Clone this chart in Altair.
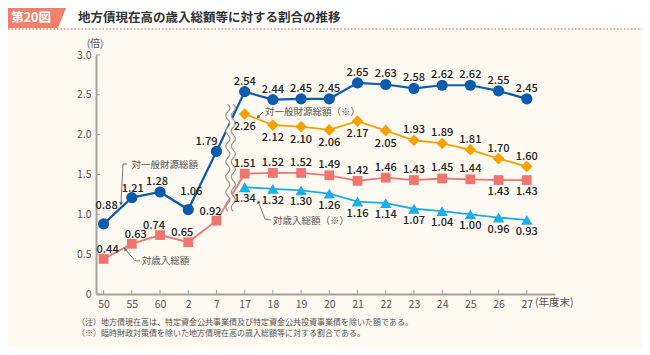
import json
import altair as alt
import pandas as pd

# ---------------- data ----------------
years = ["50", "55", "60", "2", "7", "17", "18", "19", "20", "21", "22", "23", "24", "25", "26", "27"]
ippan = [0.88, 1.21, 1.28, 1.06, 1.79, 2.54, 2.44, 2.45, 2.45, 2.65, 2.63, 2.58, 2.62, 2.62, 2.55, 2.45]
sainyu = [0.44, 0.63, 0.74, 0.65, 0.92, 1.51, 1.52, 1.52, 1.49, 1.42, 1.46, 1.43, 1.45, 1.44, 1.43, 1.43]
ippan_ex = [2.26, 2.12, 2.10, 2.06, 2.17, 2.05, 1.93, 1.89, 1.81, 1.70, 1.60]
sainyu_ex = [1.34, 1.32, 1.30, 1.26, 1.16, 1.14, 1.07, 1.04, 1.00, 0.96, 0.93]
y_ticks = [0, 0.5, 1.0, 1.5, 2.0, 2.5, 3.0]
series_names = ["対一般財源総額", "対歳入総額", "対一般財源総額（※）", "対歳入総額（※）"]

# label placement classes (style, kept apart from the data)
ippan_pos = ["hr", "ar1", "al1", "hr", "al2"] + ["a"] * 11
sainyu_pos = ["ar", "ar", "al", "al", "al"] + ["a"] * 9 + ["b", "b"]
ippan_ex_pos = ["bo"] * 6 + ["a"] * 5
sainyu_ex_pos = ["b"] * 11
offsets = {"a": (0, -10), "ar": (4, -9), "al": (-6, -9), "al2": (-10, -9),
           "ar1": (1, -9), "al1": (-3, -10),
           "hr": (3, -18), "b": (0, 12), "bo": (0, 13)}

FONT = "Noto Sans CJK JP"
BG = "#FEF9F1"
AXIS = "#A7A19B"
colors = ["#0B5CAD", "#EE7570", "#F5A200", "#1BAEE9"]
shapes = ["circle", "square", "diamond", "triangle-up"]
sizes = [125, 95, 135, 130]
widths = [2.2, 1.8, 1.8, 1.8]

rows = []
start_ex = years.index("17")
for name, vals, pos, off in [
    (series_names[0], ippan, ippan_pos, 0),
    (series_names[1], sainyu, sainyu_pos, 0),
    (series_names[2], ippan_ex, ippan_ex_pos, start_ex),
    (series_names[3], sainyu_ex, sainyu_ex_pos, start_ex),
]:
    for i, v in enumerate(vals):
        rows.append({"idx": i + off, "value": v, "series": name,
                     "label": f"{v:.2f}", "pos": pos[i]})
df = pd.DataFrame(rows)

W, H = 459, 239

X = alt.X("idx:Q", scale=alt.Scale(domain=[-0.27, 16], nice=False, zero=False),
          axis=alt.Axis(values=list(range(len(years))),
                        labelExpr=json.dumps(years) + "[datum.value]",
                        title=None, grid=False, tickSize=0, labelPadding=5,
                        domainColor=AXIS, domainWidth=2, labelFont=FONT,
                        labelFontSize=10.5, labelColor="#555"))
Y = alt.Y("value:Q", scale=alt.Scale(domain=[0, 3], nice=False),
          axis=alt.Axis(values=y_ticks,
                        labelExpr="datum.value == 0 ? '0' : format(datum.value, '.1f')",
                        title=None, grid=False, tickSize=0, labelPadding=5,
                        domainColor=AXIS, domainWidth=2, labelFont=FONT,
                        labelFontSize=10.5, labelColor="#555"))

layers = []

# inside ticks
layers.append(alt.Chart(pd.DataFrame({"value": y_ticks})).mark_rule(color=AXIS, strokeWidth=1)
              .encode(y=Y, x=alt.value(0), x2=alt.value(4)))
layers.append(alt.Chart(pd.DataFrame({"idx": list(range(len(years)))})).mark_rule(color=AXIS, strokeWidth=1)
              .encode(x=X, y=alt.value(H), y2=alt.value(H - 4)))

# lines
for k, name in enumerate(series_names):
    layers.append(alt.Chart(df).transform_filter(alt.datum.series == name)
                  .mark_line(color=colors[k], strokeWidth=widths[k])
                  .encode(x=X, y=Y, order="idx:Q"))

# axis break (two wavy lines)
def wave(x0, amp, top, bot, n, sign=1, move=True):
    h = (bot - top) / n
    d = f"M{x0:.3f},{top:.3f}" if move else f" L{x0:.3f},{top:.3f}"
    for i in range(n):
        s = amp * sign if i % 2 == 0 else -amp * sign
        d += f" Q{x0 + s:.3f},{top + h * (i + 0.5):.3f} {x0:.3f},{top + h * (i + 1):.3f}"
    return d

T, B, NW, A, G = -0.9727, 0.9727, 14, 0.075, 0.05
left_w = wave(-G, A, T, B, NW)
right_w = wave(G, A, T, B, NW)
fill_path = wave(-G, A, T, B, NW) + wave(G, A, B, T, NW, sign=-1, move=False) + " Z"
brk = pd.DataFrame({"idx": [4.5], "value": [1.71]})
layers.append(alt.Chart(brk).mark_point(shape=fill_path, filled=True, fill=BG, strokeWidth=0,
                                        size=12100, opacity=1).encode(x=X, y=Y))
for p in (left_w, right_w):
    layers.append(alt.Chart(brk).mark_point(shape=p, filled=False, stroke="#9C9690",
                                            strokeWidth=1.2, size=12100, opacity=1)
                  .encode(x=X, y=Y))

# points
for k, name in enumerate(series_names):
    layers.append(alt.Chart(df).transform_filter(alt.datum.series == name)
                  .mark_point(shape=shapes[k], filled=True, fill=colors[k], size=sizes[k],
                              opacity=1, strokeWidth=0)
                  .encode(x=X, y=Y))

# value labels
for cls, (dx, dy) in offsets.items():
    layers.append(alt.Chart(df).transform_filter(alt.datum.pos == cls)
                  .mark_text(dx=dx, dy=dy, font=FONT, fontSize=11, fontWeight=500,
                             color="#222", baseline="middle")
                  .encode(x=X, y=Y, text="label:N"))

one = pd.DataFrame({"_": [0]})

def txt(s, px, py, **kw):
    return alt.Chart(one).mark_text(font=FONT, **kw).encode(
        x=alt.value(px), y=alt.value(py), text=alt.value(s))

def seg(x1, y1, x2, y2, color="#555", w=0.8, dash=None):
    kw = {"color": color, "strokeWidth": w}
    if dash:
        kw["strokeDash"] = dash
    return alt.Chart(one).mark_rule(**kw).encode(
        x=alt.value(x1), y=alt.value(y1), x2=alt.value(x2), y2=alt.value(y2))

def tip(px, py, ang):
    return alt.Chart(one).mark_point(shape="triangle-up", filled=True, fill="#555",
                                     size=14, opacity=1, strokeWidth=0, angle=ang).encode(
        x=alt.value(px), y=alt.value(py))

# annotations with leaders
ann = dict(fontSize=9.5, color="#555", align="left", baseline="middle")
layers += [
    txt(series_names[0], 35.5, 110, **ann),
    seg(27, 109, 31, 109), seg(27, 109, 25, 148), tip(25, 149, 183),
    txt(series_names[2], 169, 57, **ann),
    seg(167, 57, 162.5, 61.5), tip(162, 62, 225),
    txt(series_names[3], 177, 165.5, **ann),
    seg(162.6, 147.5, 169, 164), seg(169, 164, 175, 165), tip(162.3, 146.7, 339),
    txt(series_names[1], 45.7, 206, **ann),
    seg(29.5, 194.5, 39, 205.7), seg(39, 205.7, 44, 206), tip(29, 194, 320),
]

# header
hdr_path = "M-1,-0.368 L1,-0.368 L0.706,0.368 L-1,0.368 Z"
layers += [
    alt.Chart(one).mark_rect(color="#FFFFFF").encode(
        x=alt.value(-88), x2=alt.value(546), y=alt.value(-47), y2=alt.value(-26)),
    seg(-88, -26, 546, -26, color="#F08A78", w=1.5, dash=[1.5, 2]),
    alt.Chart(one).mark_point(shape=hdr_path, filled=True, fill="#F0806C", size=4624,
                              opacity=1, strokeWidth=0).encode(x=alt.value(-62), y=alt.value(-39.5)),
    txt("第20図", -65, -37.5, fontSize=12.5, fontWeight="bold", color="#FFFFFF",
        align="center", baseline="middle"),
    txt("地方債現在高の歳入総額等に対する割合の推移", -18, -37.5, fontSize=12.5,
        fontWeight="bold", color="#333", align="left", baseline="middle"),
    txt("(倍)", -1, -11, fontSize=10, color="#555", align="center", baseline="middle"),
    txt("(年度末)", 439, 248, fontSize=10.5, color="#555", align="left", baseline="middle"),
    txt("（注）地方債現在高は、特定資金公共事業債及び特定資金公共投資事業債を除いた額である。",
        -19, 268, fontSize=8, color="#555", align="left", baseline="middle"),
    txt("（※）臨時財政対策債を除いた地方債現在高の歳入総額等に対する割合である。",
        -19, 279, fontSize=8, color="#555", align="left", baseline="middle"),
]

chart = alt.layer(*layers).properties(
    width=W, height=H,
    padding={"left": 88, "top": 47, "right": 87, "bottom": 53},
    autosize=alt.AutoSizeParams(type="none"),
    background=BG,
).configure_view(stroke=None)

chart.save("out.html", embed_options={"renderer": "svg", "actions": False})
